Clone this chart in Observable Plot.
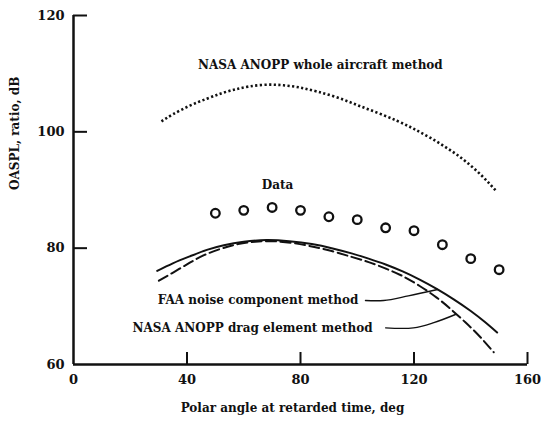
<!DOCTYPE html>
<html>
<head>
<meta charset="utf-8">
<script src="https://cdn.jsdelivr.net/npm/d3@7"></script>
<script src="https://cdn.jsdelivr.net/npm/@observablehq/plot@0.6"></script>
<style>
  html, body { margin: 0; padding: 0; background: #fff; }
</style>
</head>
<body>
<div id="chart"></div>
<script>
// Data (polar angle in deg, OASPL in dB)
const wholeAircraftX = [31, 35, 41, 47, 52, 57, 62, 68, 74, 80, 86, 93, 100, 107, 114, 120, 126, 132, 138, 144, 149];
const wholeAircraftY = [101.8, 103.0, 104.5, 105.7, 106.6, 107.3, 107.8, 108.1, 108.0, 107.6, 106.9, 105.9, 104.6, 103.3, 101.9, 100.5, 98.9, 97.1, 95.0, 92.4, 89.8];

const faaX = [29.5, 35, 41, 47, 53, 60, 68, 76, 84, 91, 98, 104, 110, 116, 122, 128, 134, 140, 145, 149.3];
const faaY = [76.1, 77.4, 78.6, 79.7, 80.5, 81.1, 81.4, 81.2, 80.7, 80.0, 79.1, 78.2, 77.2, 76.0, 74.6, 73.0, 71.2, 69.2, 67.3, 65.5];

const dragX = [30.1, 35.4, 41, 46, 52, 58, 64, 70, 77, 84, 91, 98, 104, 110, 116, 122, 128, 133, 138, 143, 148.1];
const dragY = [74.4, 75.9, 77.5, 78.8, 79.9, 80.7, 81.1, 81.2, 80.9, 80.3, 79.5, 78.5, 77.6, 76.5, 75.2, 73.5, 71.5, 69.5, 67.3, 64.9, 62.1];

const dataX = [50, 60, 70, 80, 90, 100, 110, 120, 130, 140, 150];
const dataY = [86.0, 86.5, 87.0, 86.5, 85.4, 84.9, 83.5, 83.0, 80.6, 78.2, 76.3];

const xTicks = [0, 40, 80, 120, 160];
const yTicks = [60, 80, 100, 120];
const xLabel = "Polar angle at retarded time, deg";
const yLabel = "OASPL, ratio, dB";

// Curve annotations (anchored at data coordinates)
const centerLabels = ["NASA ANOPP whole aircraft method", "Data"];
const centerLabelX = [87.0, 71.9];
const centerLabelY = [111.4, 90.8];
const endLabels = ["FAA noise component method", "NASA ANOPP drag element method"];
const endLabelX = [100.4, 105.4];
const endLabelY = [71.0, 66.3];

const faaLeaderX = [102.9, 109.3, 118, 128.3];
const faaLeaderY = [71.0, 71.0, 71.8, 72.9];
const dragLeaderX = [110.0, 119.8, 127, 134.6];
const dragLeaderY = [66.3, 66.3, 67.2, 68.6];

const zip = (xs, ys) => xs.map((x, i) => ({x, y: ys[i]}));
const whole = zip(wholeAircraftX, wholeAircraftY);
const faa = zip(faaX, faaY);
const drag = zip(dragX, dragY);
const obs = zip(dataX, dataY);
const cLabels = centerLabels.map((t, i) => ({text: t, x: centerLabelX[i], y: centerLabelY[i]}));
const eLabels = endLabels.map((t, i) => ({text: t, x: endLabelX[i], y: endLabelY[i]}));
const faaLeader = zip(faaLeaderX, faaLeaderY);
const dragLeader = zip(dragLeaderX, dragLeaderY);

const ink = "#111";
const chart = Plot.plot({
  width: 541,
  height: 421,
  marginLeft: 73,
  marginRight: 14,
  marginTop: 15,
  marginBottom: 57,
  x: {domain: [0, 160]},
  y: {domain: [60, 120]},
  style: {fontFamily: "'DejaVu Serif', serif", fontWeight: "bold", fontSize: "12px", color: ink, background: "#fff"},
  marks: [
    Plot.ruleX([0], {y1: 60, y2: 120, stroke: ink, strokeWidth: 2.5}),
    Plot.ruleY([60], {x1: 0, x2: 160, stroke: ink, strokeWidth: 2.5}),
    Plot.axisY({ticks: yTicks.filter(d => d !== 60), tickSize: -14, text: null, label: null, stroke: ink, strokeWidth: 2}),
    Plot.axisY({ticks: yTicks, tickSize: 0, tickPadding: 9, label: null, fontSize: 13, fill: ink}),
    Plot.axisX({ticks: xTicks.filter(d => d !== 0), tickSize: -12, text: null, label: null, stroke: ink, strokeWidth: 2}),
    Plot.axisX({ticks: xTicks, tickSize: 0, tickPadding: 10, label: null, fontSize: 13, fill: ink}),
    Plot.text([yLabel], {frameAnchor: "left", dx: -58, rotate: -90, fontSize: 12, fill: ink}),
    Plot.text([xLabel], {frameAnchor: "bottom", dx: -8, dy: 47, fontSize: 12, fill: ink}),
    Plot.line(whole, {x: "x", y: "y", curve: "natural", stroke: ink, strokeWidth: 2.6, strokeDasharray: "2.2,2.4", strokeLinecap: "butt"}),
    Plot.line(faa, {x: "x", y: "y", curve: "natural", stroke: ink, strokeWidth: 2}),
    Plot.line(drag, {x: "x", y: "y", curve: "natural", stroke: ink, strokeWidth: 2, strokeDasharray: "10,4.5"}),
    Plot.line(faaLeader, {x: "x", y: "y", curve: "catmull-rom", stroke: ink, strokeWidth: 1.4}),
    Plot.line(dragLeader, {x: "x", y: "y", curve: "catmull-rom", stroke: ink, strokeWidth: 1.4}),
    Plot.dot(obs, {x: "x", y: "y", r: 4.3, stroke: ink, strokeWidth: 2.3, fill: "none"}),
    Plot.text(cLabels, {x: "x", y: "y", text: "text", textAnchor: "middle", fontSize: 12, fill: ink}),
    Plot.text(eLabels, {x: "x", y: "y", text: "text", textAnchor: "end", fontSize: 12, fill: ink})
  ]
});
document.getElementById("chart").appendChild(chart);
</script>
</body>
</html>
